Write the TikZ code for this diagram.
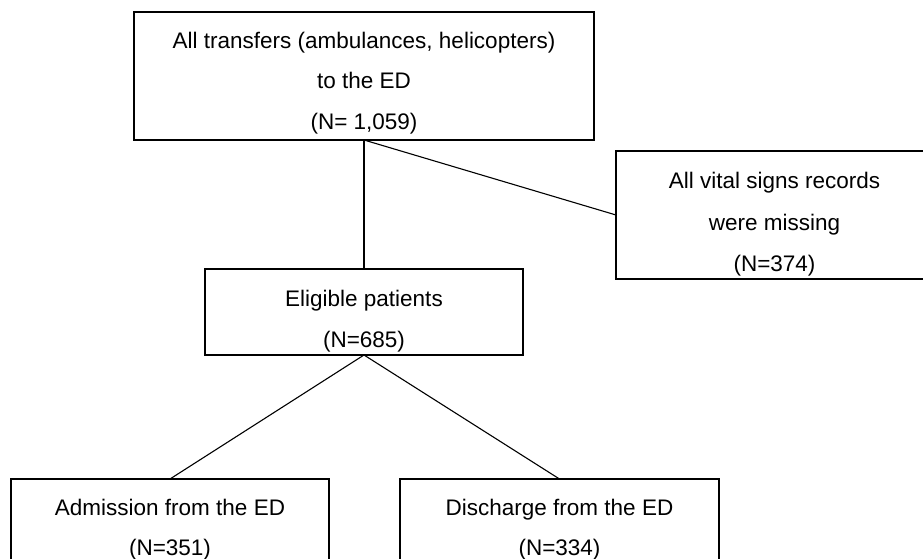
\documentclass[tikz,border=0pt]{standalone}
\usepackage{fontspec}
\setmainfont{Liberation Sans}
\begin{document}
\begin{tikzpicture}[x=1pt,y=1pt,
  box/.style={draw, line width=1.2pt, inner sep=0pt, outer sep=0pt},
  txt/.style={anchor=base, inner sep=0pt, font=\fontsize{22.5}{27}\selectfont},
  link/.style={line width=1.1pt}]
\fill[white] (0,0) rectangle (923,-559);
\useasboundingbox (0,0) rectangle (923,-559);
% boxes
\node[box, minimum width=460pt, minimum height=128pt] (top) at (364,-76) {};
\node[box, minimum width=317pt, minimum height=128pt] (miss) at (774.5,-215) {};
\node[box, minimum width=318pt, minimum height=86pt] (elig) at (364,-312) {};
\node[box, minimum width=318pt, minimum height=130pt] (adm) at (170,-544) {};
\node[box, minimum width=319pt, minimum height=130pt] (dis) at (559.5,-544) {};
% texts
\node[txt] (t1) at (364,-48.3) {All transfers (ambulances, helicopters)};
\node[txt] (t2) at (364,-88.8) {to the ED};
\node[txt] (t3) at (364,-129.3) {(N= 1,059)};
\node[txt] (m1) at (774.5,-188) {All vital signs records};
\node[txt] (m2) at (774.5,-230) {were missing};
\node[txt] (m3) at (774.5,-271.5) {(N=374)};
\node[txt] (e1) at (364,-306) {Eligible patients};
\node[txt] (e2) at (364,-347) {(N=685)};
\node[txt] (a1) at (170,-515.5) {Admission from the ED};
\node[txt] (a2) at (170,-555) {(N=351)};
\node[txt] (d1) at (559.5,-515.5) {Discharge from the ED};
\node[txt] (d2) at (559.5,-555) {(N=334)};
% connectors
\draw[link] (top.south) -- (elig.north);
\draw[link] (top.south) -- (miss.west);
\draw[link] (elig.south) -- (adm.north);
\draw[link] (elig.south) -- (dis.north);
\end{tikzpicture}
\end{document}
